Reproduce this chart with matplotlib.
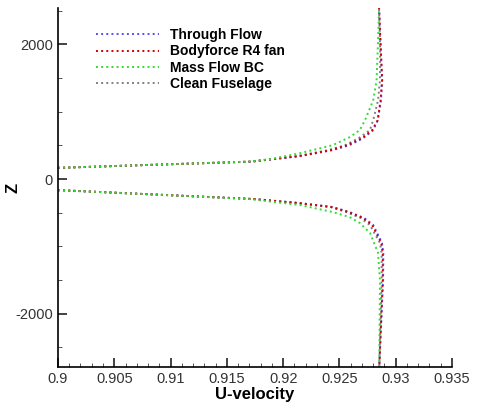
import numpy as np
import matplotlib.pyplot as plt
from matplotlib.ticker import MultipleLocator

plt.rcParams['font.family'] = ['Liberation Sans', 'DejaVu Sans']
plt.rcParams['axes.unicode_minus'] = False

# upper branch (z > 0)
z_up_tf = [167, 260, 341, 430, 504, 607, 726, 874, 1170, 1467, 1911, 2540]
u_up_tf = [0.9, 0.9172, 0.9215, 0.9244, 0.9259, 0.9271, 0.9280, 0.9284, 0.9287, 0.92878, 0.92867, 0.92852]
z_up_bf = [167, 260, 341, 430, 504, 607, 726, 874, 1170, 1467, 1911, 2540]
u_up_bf = [0.9, 0.9172, 0.9214, 0.9242, 0.9257, 0.9270, 0.9279, 0.9284, 0.92865, 0.9288, 0.92868, 0.92852]
z_up_mf = [167, 260, 300, 385, 504, 622, 726, 874, 1170, 1467, 1911, 2540]
u_up_mf = [0.9, 0.9170, 0.919, 0.9215, 0.9244, 0.9259, 0.9268, 0.92727, 0.9280, 0.9283, 0.9284, 0.92852]
z_up_cf = [167, 260, 341, 430, 504, 607, 726, 874, 1170, 1467, 1911, 2540]
u_up_cf = [0.9, 0.9171, 0.9212, 0.9240, 0.9255, 0.9267, 0.9277, 0.9280, 0.92843, 0.9286, 0.92862, 0.92852]

# lower branch (z < 0)
z_lo_tf = [-163, -296, -356, -415, -489, -578, -681, -948, -1096, -1500, -1793, -2790]
u_lo_tf = [0.9, 0.9175, 0.9215, 0.9244, 0.9259, 0.9272, 0.9280, 0.92878, 0.9289, 0.92888, 0.9288, 0.92854]
z_lo_bf = [-163, -296, -356, -415, -489, -578, -681, -948, -1096, -1500, -1793, -2790]
u_lo_bf = [0.9, 0.9174, 0.9214, 0.9243, 0.9258, 0.9271, 0.9279, 0.92872, 0.92885, 0.92885, 0.92878, 0.92854]
z_lo_mf = [-163, -296, -385, -489, -563, -650, -800, -1096, -1500, -2790]
u_lo_mf = [0.9, 0.9170, 0.9215, 0.9244, 0.9259, 0.9268, 0.92772, 0.92843, 0.9286, 0.92854]
z_lo_cf = [-163, -296, -356, -415, -489, -578, -681, -948, -1096, -1500, -2790]
u_lo_cf = [0.9, 0.9174, 0.9213, 0.9242, 0.9256, 0.9269, 0.9277, 0.9286, 0.92875, 0.92875, 0.92854]

labels = ['Through Flow', 'Bodyforce R4 fan', 'Mass Flow BC', 'Clean Fuselage']
colors = ['#5050ff', '#d00000', '#30dd30', '#808080']
series = [
    (u_up_tf, z_up_tf, u_lo_tf, z_lo_tf),
    (u_up_bf, z_up_bf, u_lo_bf, z_lo_bf),
    (u_up_mf, z_up_mf, u_lo_mf, z_lo_mf),
    (u_up_cf, z_up_cf, u_lo_cf, z_lo_cf),
]

fig = plt.figure(figsize=(4.78, 4.04), dpi=100)
ax = fig.add_axes([0.1213, 0.0916, 0.8243, 0.8884])

# blue at the back, then gray, red and green on top
order = [0, 3, 1, 2]
for i in order:
    uu, zu, ul, zl = series[i]
    ax.plot(uu, zu, ls=':', lw=1.4, color=colors[i], label=labels[i])
    ax.plot(ul, zl, ls=':', lw=1.4, color=colors[i])

ax.set_xlim(0.9, 0.935)
ax.set_ylim(-2790, 2540)
ax.xaxis.set_minor_locator(MultipleLocator(0.001))
ax.yaxis.set_major_locator(MultipleLocator(2000))
ax.yaxis.set_minor_locator(MultipleLocator(500))
ax.set_xticks([0.9, 0.905, 0.91, 0.915, 0.92, 0.925, 0.93, 0.935])
ax.set_xticklabels(['0.9', '0.905', '0.91', '0.915', '0.92', '0.925', '0.93', '0.935'])

for s in ['top', 'right']:
    ax.spines[s].set_visible(False)
for s in ['left', 'bottom']:
    ax.spines[s].set_linewidth(1.2)
ax.tick_params(which='major', direction='in', length=6.5, width=1.2, labelsize=10.5,
               colors='#222222', labelcolor='#333333')
ax.tick_params(which='minor', direction='in', length=3, width=0.7, colors='#555555')

ax.set_xlabel('U-velocity', fontsize=12, fontweight='bold', labelpad=1)
ax.set_ylabel('Z', fontsize=12, fontweight='bold')
ax.yaxis.set_label_coords(-0.096, 0.5)

handles, labs = ax.get_legend_handles_labels()
idx = [labs.index(l) for l in labels]
ax.legend([handles[k] for k in idx], [labs[k] for k in idx], loc='upper left',
          bbox_to_anchor=(0.065, 0.979), frameon=False, handlelength=4.5,
          handletextpad=0.8, labelspacing=0.17, prop={'weight': 'bold', 'size': 10})

fig.savefig('out.png', dpi=100)
